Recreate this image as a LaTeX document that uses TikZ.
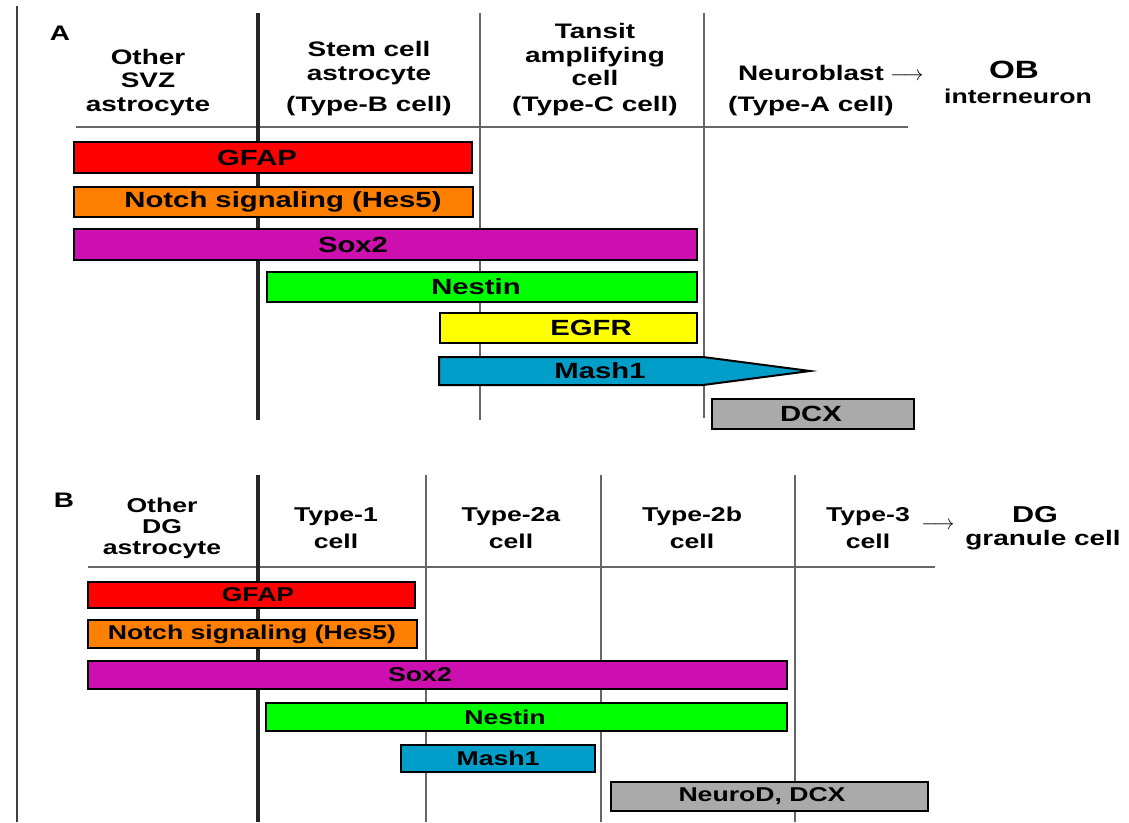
\documentclass[tikz,border=0pt]{standalone}
\usepackage{fontspec}
\setmainfont{Liberation Sans}[FakeStretch=1.33]
\definecolor{gfapred}{RGB}{255,0,0}
\definecolor{notchorange}{RGB}{255,128,0}
\definecolor{soxpink}{RGB}{205,15,175}
\definecolor{nestingreen}{RGB}{0,255,0}
\definecolor{egfryellow}{RGB}{255,255,0}
\definecolor{mashblue}{RGB}{0,158,200}
\definecolor{dcxgray}{RGB}{170,170,170}

\begin{document}
\begin{tikzpicture}[x=1pt, y=-1pt,
bar/.style={draw=black, line width=2pt, inner sep=0pt, anchor=west},
bartextA/.style={font=\fontsize{22}{24}\selectfont\bfseries, inner sep=0pt},
bartextB/.style={font=\fontsize{20}{22}\selectfont\bfseries, inner sep=0pt},
headA/.style={font=\fontsize{21}{23.5}\selectfont\bfseries, align=center, inner sep=0pt, anchor=base},
headB/.style={font=\fontsize{20}{21}\selectfont\bfseries, align=center, inner sep=0pt, anchor=base},
thickline/.style={line width=4pt, black!85},
thinline/.style={line width=1.8pt, black!60},
]
\useasboundingbox (0,0) rectangle (1129,822);
\draw[line width=2.5pt, black!75] (17,6) -- (17,822);

% panel A
\node[headA] (panA) at (60,40) {A};
\draw[thinline] (76,127) -- (908,127);
\draw[thickline] (258,13) -- (258,420);
\draw[thinline] (480,13) -- (480,420);
\draw[thinline] (704,13) -- (704,418);
\node[headA] (otherA) at (148,111) {Other\\SVZ\\astrocyte};
\node[headA] (stemA) at (369,111) {Stem cell\\astrocyte\\[7.5pt](Type-B cell)};
\node[headA] (transitA) at (595,111) {Tansit\\amplifying\\cell\\[2pt](Type-C cell)};
\node[headA] (neuroA) at (811,111) {Neuroblast\\[7.5pt](Type-A cell)};
\node[inner sep=0pt, anchor=base] (arrA) at (907,80) {\fontsize{21}{21}\selectfont$\longrightarrow$};
\node[font=\fontsize{25}{25}\selectfont\bfseries, inner sep=0pt, anchor=base] (obA) at (1014,78) {OB};
\node[font=\fontsize{20}{20}\selectfont\bfseries, inner sep=0pt, anchor=base] (interA) at (1018,103) {interneuron};

\node[bar, fill=gfapred, minimum width=398pt, minimum height=31pt] (gfapA) at (73,157.5) {};
\node[bartextA] (gfapAtxt) at (257,157.5) {GFAP};
\node[bar, fill=notchorange, minimum width=399pt, minimum height=30pt] (notchA) at (73,202) {};
\node[bartextA] (notchAtxt) at (283,202) {Notch signaling (Hes5)};
\node[bar, fill=soxpink, minimum width=623pt, minimum height=31pt] (soxA) at (73,244.5) {};
\node[bartextA] (soxAtxt) at (353,244.5) {Sox2};
\node[bar, fill=nestingreen, minimum width=430pt, minimum height=30pt] (nestinA) at (266,287) {};
\node[bartextA] (nestinAtxt) at (476,287) {Nestin};
\node[bar, fill=egfryellow, minimum width=257pt, minimum height=30pt] (egfrA) at (439,328) {};
\node[bartextA] (egfrAtxt) at (591,328) {EGFR};
\draw[line width=2pt, fill=mashblue] (439,357) -- (703,357) -- (810,371) -- (703,385) -- (439,385) -- cycle;
\node[bartextA] (mashAtxt) at (600,371) {Mash1};
\node[bar, fill=dcxgray, minimum width=202pt, minimum height=30pt] (dcxA) at (711,414) {};
\node[bartextA] (dcxAtxt) at (811,414) {DCX};

% panel B
\node[headA] (panB) at (64,507) {B};
\draw[thinline] (88,567) -- (935,567);
\draw[thickline] (258,475) -- (258,822);
\draw[thinline] (426,475) -- (426,822);
\draw[thinline] (601,475) -- (601,822);
\draw[thinline] (795,475) -- (795,822);
\node[headB] (otherB) at (162,554) {Other\\DG\\astrocyte};
\node[headB] (type1B) at (336,548) {Type-1\\[6pt]cell};
\node[headB] (type2aB) at (511,548) {Type-2a\\[6pt]cell};
\node[headB] (type2bB) at (692,548) {Type-2b\\[6pt]cell};
\node[headB] (type3B) at (868,548) {Type-3\\[6pt]cell};
\node[inner sep=0pt, anchor=base] (arrB) at (938,529) {\fontsize{20}{20}\selectfont$\longrightarrow$};
\node[font=\fontsize{23}{23}\selectfont\bfseries, inner sep=0pt, anchor=base] (dgB) at (1035,522) {DG};
\node[font=\fontsize{21}{21}\selectfont\bfseries, inner sep=0pt, anchor=base] (granB) at (1043,545) {granule cell};

\node[bar, fill=gfapred, minimum width=327pt, minimum height=26pt] (gfapB) at (87,595) {};
\node[bartextB] (gfapBtxt) at (258,595) {GFAP};
\node[bar, fill=notchorange, minimum width=329pt, minimum height=28pt] (notchB) at (87,634) {};
\node[bartextB] (notchBtxt) at (252,634) {Notch signaling (Hes5)};
\node[bar, fill=soxpink, minimum width=699pt, minimum height=28pt] (soxB) at (87,675) {};
\node[bartextB] (soxBtxt) at (420,675) {Sox2};
\node[bar, fill=nestingreen, minimum width=521pt, minimum height=28pt] (nestinB) at (265,717) {};
\node[bartextB] (nestinBtxt) at (505,717) {Nestin};
\node[bar, fill=mashblue, minimum width=194pt, minimum height=27pt] (mashB) at (400,758.5) {};
\node[bartextB] (mashBtxt) at (498,758.5) {Mash1};
\node[bar, fill=dcxgray, minimum width=317pt, minimum height=29pt] (neurodB) at (610,796.5) {};
\node[bartextB] (neurodBtxt) at (762,796.5) {NeuroD, DCX};
\end{tikzpicture}
\end{document}
